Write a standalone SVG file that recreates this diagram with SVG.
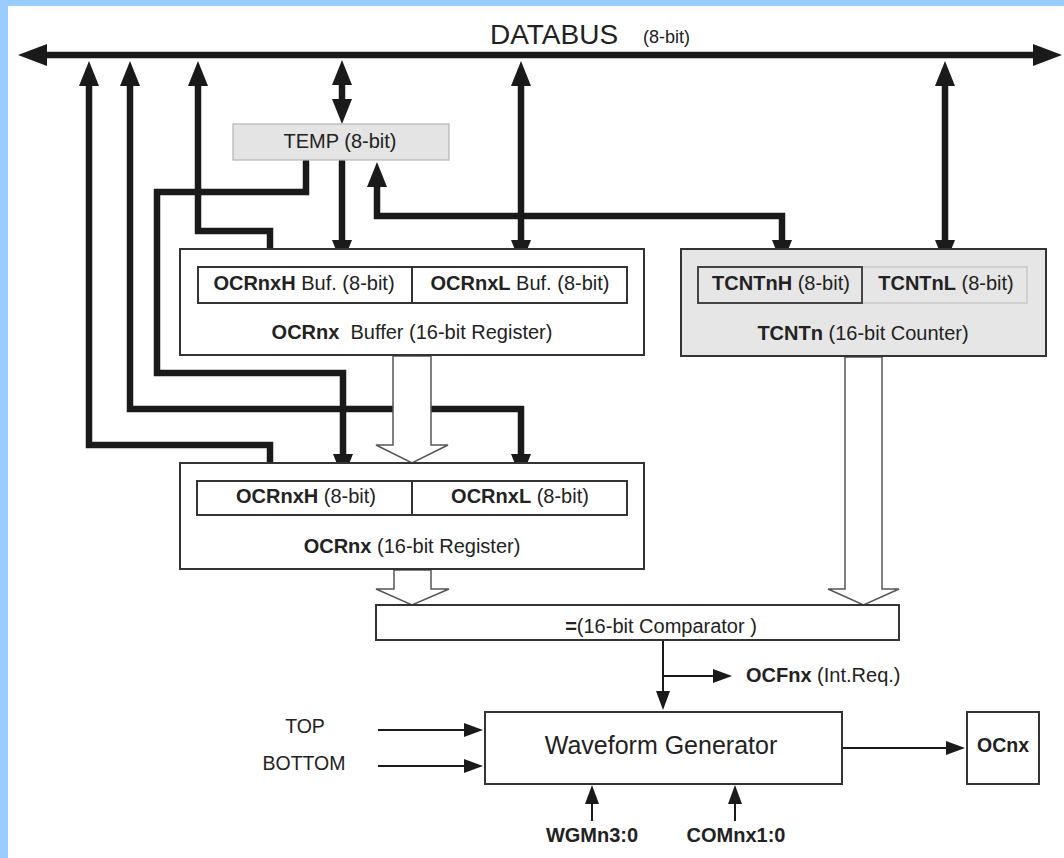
<svg xmlns="http://www.w3.org/2000/svg" width="1064" height="858" viewBox="0 0 1064 858">
<style>
  text { font-family: "Liberation Sans", Arial, sans-serif; fill: #222; }
  .b { font-weight: bold; }
  .box { fill: #fff; stroke: #333; stroke-width: 2; }
  .gbox { fill: #e6e6e6; stroke: #333; stroke-width: 2; }
  .thick { fill: none; stroke: #1a1a1a; stroke-width: 6.5; stroke-linejoin: miter; }
  .thin { fill: none; stroke: #1a1a1a; stroke-width: 2; }
  .hollow { fill: #fff; stroke: #555; stroke-width: 1.5; }
</style>
<defs>
  <marker id="ah" markerUnits="userSpaceOnUse" markerWidth="26" markerHeight="20" refX="1" refY="10" orient="auto-start-reverse">
    <path d="M0,0 L25,10 L0,20 z" fill="#1a1a1a"/>
  </marker>
  <marker id="bus" markerUnits="userSpaceOnUse" markerWidth="30" markerHeight="22" refX="1" refY="11" orient="auto-start-reverse">
    <path d="M0,0 L29,11 L0,22 z" fill="#1a1a1a"/>
  </marker>
  <marker id="ta" markerUnits="userSpaceOnUse" markerWidth="20" markerHeight="14" refX="1" refY="7" orient="auto-start-reverse">
    <path d="M0,0 L19,7 L0,14 z" fill="#1a1a1a"/>
  </marker>
</defs>

<rect x="0" y="0" width="1064" height="858" fill="#fff"/>
<rect x="0" y="0" width="1064" height="6" fill="#99ccff"/>
<rect x="0" y="0" width="8" height="858" fill="#99ccff"/>

<g font-size="20">
<g id="databus">
  <path class="thick" d="M46,55 H1034" stroke-width="7" marker-start="url(#bus)" marker-end="url(#bus)"/>
  <text x="490" y="44" font-size="28">DATABUS</text>
  <text x="643" y="43" font-size="18">(8-bit)</text>
</g>

<g id="connectors">
  <path class="thick" d="M270,481 V445 H89 V85" marker-end="url(#ah)"/>
  <path class="thick" d="M130,85 V409 H521 V455" marker-start="url(#ah)" marker-end="url(#ah)"/>
  <path class="thick" d="M270,267 V231 H198 V85" marker-end="url(#ah)"/>
  <path class="thick" d="M342,84 V100" marker-start="url(#ah)" marker-end="url(#ah)"/>
  <path class="thick" d="M306,162 V192 H157 V373 H343 V455" stroke-linecap="round" marker-end="url(#ah)"/>
  <path class="thick" d="M342,162 V241" stroke-linecap="round" marker-end="url(#ah)"/>
  <path class="thick" d="M782,241 V216 H377 V186" marker-start="url(#ah)" marker-end="url(#ah)"/>
  <path class="thick" d="M521,85 V241" marker-start="url(#ah)" marker-end="url(#ah)"/>
  <path class="thick" d="M945,85 V241" marker-start="url(#ah)" marker-end="url(#ah)"/>
  <path class="thin" d="M663,641 V692" marker-end="url(#ta)"/>
  <path class="thin" d="M663,676 H714" marker-end="url(#ta)"/>
  <path class="thin" d="M378,730 H465" marker-end="url(#ta)"/>
  <path class="thin" d="M378,766 H465" marker-end="url(#ta)"/>
  <path class="thin" d="M843,748 H947" marker-end="url(#ta)"/>
  <path class="thin" d="M592,821 V803" marker-end="url(#ta)"/>
  <path class="thin" d="M735,821 V803" marker-end="url(#ta)"/>
  <polygon class="hollow" points="393,356 431,356 431,445 448,445 412,463 376,445 393,445"/>
  <polygon class="hollow" points="394,570 431,570 431,589 449,589 412,605 376,589 394,589"/>
  <polygon class="hollow" points="845,357 882,357 882,589 899,589 863.5,605 828,589 845,589"/>
</g>

<g id="temp">
  <rect x="233" y="124" width="216" height="36" fill="#e4e4e4" stroke="#b4b4b4" stroke-width="1.2"/>
  <text x="340" y="148" text-anchor="middle">TEMP (8-bit)</text>
</g>

<g id="ocr-buffer">
  <rect class="box" x="180" y="249" width="464" height="106"/>
  <rect class="box" x="198" y="267" width="214" height="36"/>
  <rect class="box" x="412" y="267" width="215" height="36"/>
  <text x="304" y="290" text-anchor="middle"><tspan class="b">OCRnxH</tspan> Buf. (8-bit)</text>
  <text x="520" y="290" text-anchor="middle"><tspan class="b">OCRnxL</tspan> Buf. (8-bit)</text>
  <text x="412" y="339" text-anchor="middle" xml:space="preserve"><tspan class="b">OCRnx</tspan>  Buffer (16-bit Register)</text>
</g>

<g id="tcnt">
  <rect class="gbox" x="681" y="249" width="365" height="107"/>
  <rect x="862" y="267" width="165" height="36" fill="#e6e6e6" stroke="#c8c8c8" stroke-width="1.5"/>
  <rect x="698" y="267" width="164" height="36" fill="#e6e6e6" stroke="#444" stroke-width="2"/>
  <text x="781" y="290" text-anchor="middle"><tspan class="b">TCNTnH</tspan> (8-bit)</text>
  <text x="946" y="290" text-anchor="middle"><tspan class="b">TCNTnL</tspan> (8-bit)</text>
  <text x="863" y="340" text-anchor="middle"><tspan class="b">TCNTn</tspan> (16-bit Counter)</text>
</g>

<g id="ocr">
  <rect class="box" x="180" y="463" width="464" height="106"/>
  <rect class="box" x="197" y="481" width="215" height="34"/>
  <rect class="box" x="412" y="481" width="215" height="34"/>
  <text x="306" y="503" text-anchor="middle"><tspan class="b">OCRnxH</tspan> (8-bit)</text>
  <text x="520" y="503" text-anchor="middle"><tspan class="b">OCRnxL</tspan> (8-bit)</text>
  <text x="412" y="553" text-anchor="middle"><tspan class="b">OCRnx</tspan> (16-bit Register)</text>
</g>

<g id="comparator">
  <rect class="box" x="376" y="605" width="523" height="35"/>
  <text x="661" y="633" text-anchor="middle"><tspan class="b">=</tspan>(16-bit Comparator )</text>
</g>

<g id="ocf">
  <text x="746" y="682"><tspan class="b">OCFnx</tspan> (Int.Req.)</text>
</g>

<g id="waveform">
  <rect class="box" x="485" y="712" width="357" height="72"/>
  <text x="661" y="754" text-anchor="middle" font-size="25">Waveform Generator</text>
</g>

<g id="top-label"><text x="305" y="733" text-anchor="middle" font-size="19.5">TOP</text></g>
<g id="bottom-label"><text x="304" y="770" text-anchor="middle" font-size="19.5">BOTTOM</text></g>

<g id="ocnx">
  <rect class="box" x="967" y="712" width="72" height="72"/>
  <text x="1003" y="752" text-anchor="middle" class="b" font-size="19.5">OCnx</text>
</g>

<g id="wgm"><text x="592" y="842" text-anchor="middle" class="b">WGMn3:0</text></g>
<g id="com"><text x="736" y="842" text-anchor="middle" class="b">COMnx1:0</text></g>
</g>
</svg>
